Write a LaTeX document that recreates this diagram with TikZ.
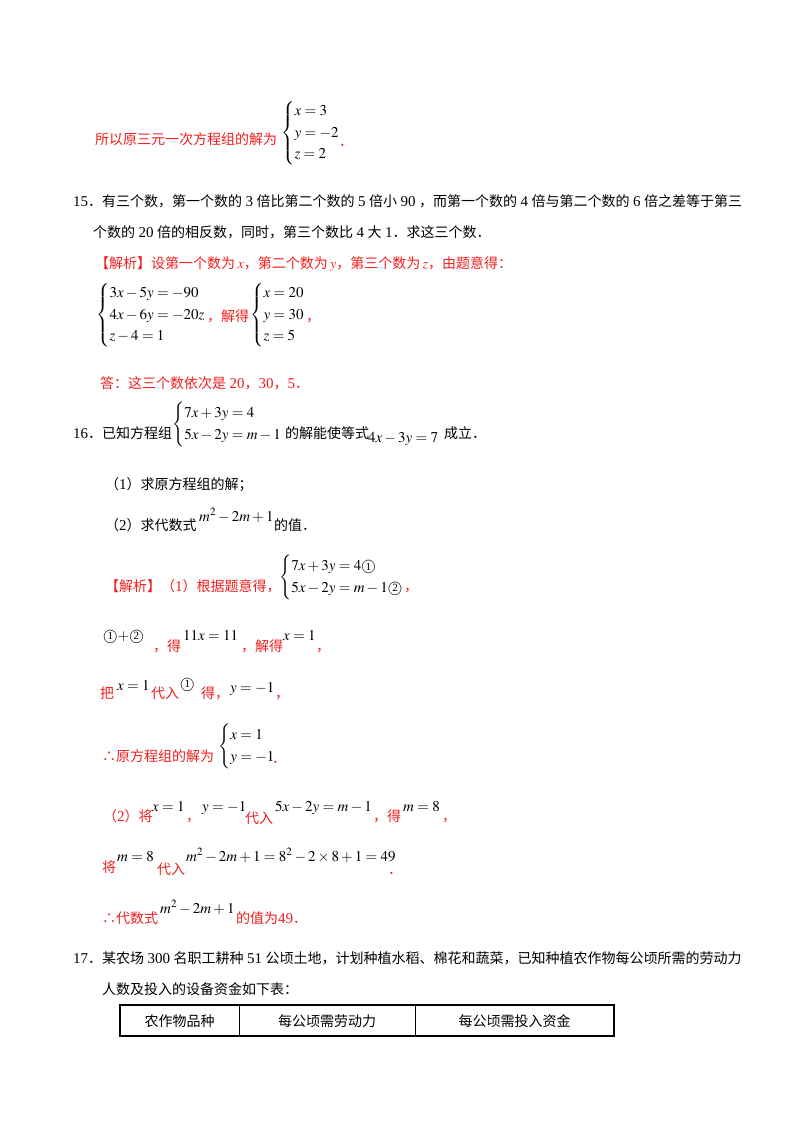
\documentclass[tikz,border=0pt]{standalone}
\usepackage{amsmath}
\usepackage{mathptmx}
\usepackage{fontspec}
\setmainfont{Liberation Serif}
\newfontfamily\cjk{Noto Sans CJK SC}
\newcommand\tm[1]{\hspace{3.5pt}{\rmfamily\fontsize{15}{17}\selectfont #1}\hspace{3.5pt}}
\newcommand\tn[1]{{\rmfamily\fontsize{15}{17}\selectfont #1}}
\newcommand\cn[1]{{\fontsize{15}{15}\selectfont\textcircled{\fontsize{11}{11}\selectfont #1}}}
\definecolor{ans}{RGB}{240,30,30}
\begin{document}
\begin{tikzpicture}[x=1pt,y=-1pt,
  t/.style={anchor=base west,inner sep=0pt,font=\fontsize{14}{17}\cjk},
  r/.style={t,text=ans},
  m/.style={anchor=base west,inner sep=0pt,font=\fontsize{15}{18}\selectfont},
  cs/.style={anchor=west,inner sep=0pt,font=\fontsize{15}{18}\selectfont\renewcommand\arraystretch{1.7}}]
\useasboundingbox (0,0) rectangle (800,1132);
% top
\node[r] (a1) at (95,144) {所以原三元一次方程组的解为};
\node[cs] (a2) at (281,133) {$\begin{cases}x=3\\y=-2\\z=2\end{cases}$};
\node[r] (a3) at (339,146) {．};
\node[anchor=center,inner sep=0pt,text=orange,font=\tiny] (dot) at (93,169) {.};
% 15
\node[t] (p15) at (73,206) {\tn{15}．有三个数，第一个数的\tm{3}倍比第二个数的\tm{5}倍小\tm{90}，而第一个数的\tm{4}倍与第二个数的\tm{6}倍之差等于第三};
\node[t] (p15b) at (93,237) {个数的\tm{20}倍的相反数，同时，第三个数比\tm{4}大\hspace{3.5pt}\tn{1}．求这三个数．};
\node[r] (s15) at (95,268) {【解析】设第一个数为\,$x$，第二个数为\,$y$，第三个数为\,$z$，由题意得：};
\node[cs] (e15) at (96,315) {$\begin{cases}3x-5y=-90\\4x-6y=-20z\\z-4=1\end{cases}$};
\node[r] (j15) at (207,321) {，解得};
\node[cs] (f15) at (250,315) {$\begin{cases}x=20\\y=30\\z=5\end{cases}$};
\node[r] (k15) at (306,321) {，};
\node[r] (d15) at (100,388) {答：这三个数依次是\hspace{3.5pt}\tn{20}，\tn{30}，\tn{5}．};
% 16
\node[t] (p16) at (73,438) {\tn{16}．已知方程组};
\node[cs] (e16) at (172,424) {$\begin{cases}7x+3y=4\\5x-2y=m-1\end{cases}$};
\node[t] (q16) at (285,438) {的解能使等式};
\node[m] (g16) at (368,442) {$4x-3y=7$};
\node[t] (h16) at (444,438) {成立．};
\node[t] (i16) at (105,489) {（\tn{1}）求原方程组的解；};
\node[t] (j16) at (105,530) {（\tn{2}）求代数式};
\node[m] (k16) at (199,521) {$m^2-2m+1$};
\node[t] (l16) at (274,530) {的值．};
\node[r] (s16) at (105,591) {【解析】（\tn{1}）根据题意得，};
\node[cs] (e16b) at (279,577) {$\begin{cases}7x+3y=4\text{\cn{1}}\\5x-2y=m-1\text{\cn{2}}\end{cases}$};
\node[r] (c16) at (404,591) {，};
\node[m] (o1) at (103,640) {\cn{1}$+$\cn{2}};
\node[r] (o2) at (153,651) {，得};
\node[m] (o3) at (183,640) {$11x=11$};
\node[r] (o4) at (241,651) {，解得};
\node[m] (o5) at (283,640) {$x=1$};
\node[r] (o6) at (316,651) {，};
\node[r] (b1) at (100,698) {把};
\node[m] (b2) at (117,690) {$x=1$};
\node[r] (b3) at (151,698) {代入};
\node[m] (b4) at (180,688) {\cn{1}};
\node[r] (b5) at (201,698) {得，};
\node[m] (b6) at (230,692) {$y=-1$};
\node[r] (b7) at (275,698) {，};
\node[r] (u1) at (102,761) {∴原方程组的解为};
\node[cs] (u2) at (218,746) {$\begin{cases}x=1\\y=-1\end{cases}$};
\node[r] (u3) at (272,763) {．};
\node[r] (v1) at (103,821) {（\tn{2}）将};
\node[m] (v2) at (152,811) {$x=1$};
\node[r] (v3) at (186,821) {，};
\node[m] (v4) at (202,811) {$y=-1$};
\node[r] (v5) at (245,823) {代入};
\node[m] (v6) at (275,811) {$5x-2y=m-1$};
\node[r] (v7) at (373,821) {，得};
\node[m] (v8) at (403,811) {$m=8$};
\node[r] (v9) at (442,821) {，};
\node[r] (w1) at (102,872) {将};
\node[m] (w2) at (117,861) {$m=8$};
\node[r] (w3) at (157,874) {代入};
\node[m] (w4) at (186,861) {$m^2-2m+1=8^2-2\times8+1=49$};
\node[r] (w5) at (388,874) {．};
\node[r] (z1) at (102,923) {∴代数式};
\node[m] (z2) at (160,913) {$m^2-2m+1$};
\node[r] (z3) at (236,923) {的值为\tn{49}．};
% 17
\node[t] (p17) at (73,963) {\tn{17}．某农场\tm{300}名职工耕种\tm{51}公顷土地，计划种植水稻、棉花和蔬菜，已知种植农作物每公顷所需的劳动力};
\node[t] (p17b) at (102,994) {人数及投入的设备资金如下表：};
% table
\draw[line width=1.2pt] (120,1005) rectangle (614,1036);
\draw[line width=1pt] (239,1005) -- (239,1036) (415,1005) -- (415,1036);
\node[t,anchor=base] (c1) at (179.5,1026) {农作物品种};
\node[t,anchor=base] (c2) at (327,1026) {每公顷需劳动力};
\node[t,anchor=base] (c3) at (514.5,1026) {每公顷需投入资金};
\end{tikzpicture}
\end{document}
